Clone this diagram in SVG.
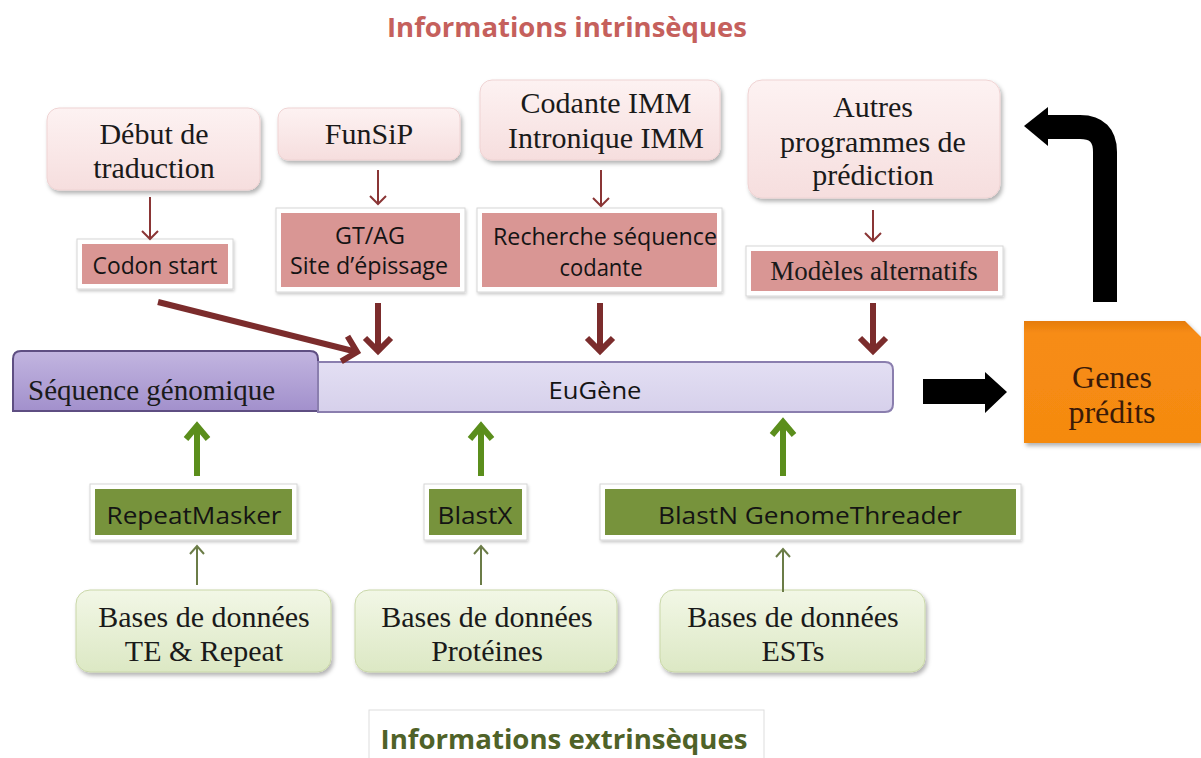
<svg xmlns="http://www.w3.org/2000/svg" width="1201" height="758" viewBox="0 0 1201 758">
<defs>
<linearGradient id="gPink" x1="0" y1="0" x2="0" y2="1"><stop offset="0" stop-color="#fdf2f2"/><stop offset="1" stop-color="#f6dede"/></linearGradient>
<linearGradient id="gGreen" x1="0" y1="0" x2="0" y2="1"><stop offset="0" stop-color="#f2f7e6"/><stop offset="1" stop-color="#dce8c4"/></linearGradient>
<linearGradient id="gPurple" x1="0" y1="0" x2="0" y2="1"><stop offset="0" stop-color="#c2b5e0"/><stop offset="1" stop-color="#a290cc"/></linearGradient>
<linearGradient id="gLav" x1="0" y1="0" x2="0" y2="1"><stop offset="0" stop-color="#e3dff3"/><stop offset="1" stop-color="#d6d0eb"/></linearGradient>
<linearGradient id="gOrange" x1="0" y1="0" x2="0" y2="1"><stop offset="0" stop-color="#e57c0c"/><stop offset="0.1" stop-color="#f78c14"/><stop offset="1" stop-color="#f58a10"/></linearGradient>
<filter id="sh" x="-10%" y="-10%" width="125%" height="140%"><feDropShadow dx="2" dy="3" stdDeviation="2" flood-color="#000" flood-opacity="0.3"/></filter>
<filter id="shl" x="-10%" y="-10%" width="125%" height="140%"><feDropShadow dx="1" dy="2" stdDeviation="1.5" flood-color="#000" flood-opacity="0.2"/></filter>
<marker id="mRedThick" markerUnits="userSpaceOnUse" viewBox="-16 -16 20 32" refX="0" refY="0" markerWidth="20" markerHeight="32" orient="auto" overflow="visible"><path d="M-13,-13 L0,0 L-13,13" fill="none" stroke="#7b2c2c" stroke-width="6"/></marker>
<marker id="mRedThin" markerUnits="userSpaceOnUse" viewBox="-10 -10 12 20" refX="0" refY="0" markerWidth="12" markerHeight="20" orient="auto" overflow="visible"><path d="M-8,-8 L0,0 L-8,8" fill="none" stroke="#8a3535" stroke-width="2"/></marker>
<marker id="mGreenThick" markerUnits="userSpaceOnUse" viewBox="-16 -16 20 32" refX="0" refY="0" markerWidth="20" markerHeight="32" orient="auto" overflow="visible"><path d="M-13,-11 L0,0 L-13,11" fill="none" stroke="#5b8e1c" stroke-width="6"/></marker>
<marker id="mGreenThin" markerUnits="userSpaceOnUse" viewBox="-10 -10 12 20" refX="0" refY="0" markerWidth="12" markerHeight="20" orient="auto" overflow="visible"><path d="M-8,-7 L0,0 L-8,7" fill="none" stroke="#6b7c47" stroke-width="2"/></marker>
</defs>
<style>
.serif{font-family:"Liberation Serif","Times New Roman",serif;font-size:30px;fill:#1a1a1a;text-anchor:middle}
.sans{font-family:"Open Sans","Liberation Sans",sans-serif;font-size:24px;fill:#141414;text-anchor:middle}
.pink{fill:url(#gPink);stroke:#efd3d3;stroke-width:1;filter:url(#sh)}
.lgreen{fill:url(#gGreen);stroke:#c9d7a8;stroke-width:1;filter:url(#sh)}
.frame{fill:#ffffff;stroke:#d6d6d6;stroke-width:1;filter:url(#shl)}
.rose{fill:#d99694}
.olive{fill:#77933c}
.redThick{stroke:#7b2c2c;stroke-width:6;fill:none;marker-end:url(#mRedThick)}
.redThin{stroke:#8a3535;stroke-width:2;fill:none;marker-end:url(#mRedThin)}
.greenThick{stroke:#5b8e1c;stroke-width:6;fill:none;marker-end:url(#mGreenThick)}
.greenThin{stroke:#6b7c47;stroke-width:2;fill:none;marker-end:url(#mGreenThin)}
</style>
<rect width="1201" height="758" fill="#ffffff"/>

<text x="567" y="37" style="font-family:'Open Sans','Liberation Sans',sans-serif;font-size:26px;font-weight:bold;fill:#c5605c;text-anchor:middle" textLength="360" lengthAdjust="spacingAndGlyphs">Informations intrinsèques</text>

<g id="debut"><rect class="pink" x="47" y="108" width="213" height="82" rx="12"/><text class="serif" x="154" y="144">Début de</text><text class="serif" x="154" y="178">traduction</text></g>
<g id="funsip"><rect class="pink" x="278" y="108" width="182" height="52" rx="10"/><text class="serif" x="369" y="144">FunSiP</text></g>
<g id="codante"><rect class="pink" x="480" y="80" width="240" height="80" rx="12"/><text class="serif" x="606" y="113">Codante IMM</text><text class="serif" x="606" y="148">Intronique IMM</text></g>
<g id="autres"><rect class="pink" x="748" y="80" width="252" height="118" rx="14"/><text class="serif" x="873" y="117">Autres</text><text class="serif" x="873" y="152">programmes de</text><text class="serif" x="873" y="185">prédiction</text></g>

<g id="codon"><rect class="frame" x="77" y="239" width="156" height="50"/><rect class="rose" x="82" y="244" width="146" height="40"/><text class="sans" x="155" y="274" textLength="125" lengthAdjust="spacingAndGlyphs">Codon start</text></g>
<g id="gtag"><rect class="frame" x="276" y="208" width="189" height="84"/><rect class="rose" x="281" y="213" width="179" height="74"/><text class="sans" x="370" y="244" textLength="70" lengthAdjust="spacingAndGlyphs">GT/AG</text><text class="sans" x="369" y="274" textLength="158" lengthAdjust="spacingAndGlyphs">Site d’épissage</text></g>
<g id="recherche"><rect class="frame" x="477" y="208" width="245" height="84"/><rect class="rose" x="482" y="213" width="235" height="74"/><text class="sans" x="605" y="245" textLength="224" lengthAdjust="spacingAndGlyphs">Recherche séquence</text><text class="sans" x="601" y="276" textLength="83" lengthAdjust="spacingAndGlyphs">codante</text></g>
<g id="modeles"><rect class="frame" x="746" y="246" width="257" height="50"/><rect class="rose" x="751" y="251" width="247" height="40"/><text class="serif" x="874" y="280" style="font-size:27px">Modèles alternatifs</text></g>

<g id="sequence"><path d="M13,411 V359 Q13,351 21,351 H310 Q318,351 318,359 V411 Z" fill="url(#gPurple)" stroke="#5e4e82" stroke-width="2"/><text class="serif" x="28" y="400" style="text-anchor:start;font-size:29px">Séquence génomique</text></g>
<g id="eugene"><path d="M318,362 H885 Q893,362 893,370 V404 Q893,412 885,412 H318 Z" fill="url(#gLav)" stroke="#8a7eae" stroke-width="2"/><text class="sans" x="595" y="399" textLength="93" lengthAdjust="spacingAndGlyphs">EuGène</text></g>

<g id="genes"><path d="M1024,321 H1185 L1201,337 V443 H1024 Z" fill="url(#gOrange)" filter="url(#sh)"/><text class="serif" x="1112" y="388" style="font-size:32px;fill:#3a1a08">Genes</text><text class="serif" x="1112" y="423" style="font-size:32px;fill:#3a1a08">prédits</text></g>

<g id="repeatmasker"><rect class="frame" x="90" y="484" width="207" height="56"/><rect class="olive" x="95" y="489" width="197" height="46"/><text class="sans" x="194" y="524" textLength="175" lengthAdjust="spacingAndGlyphs">RepeatMasker</text></g>
<g id="blastx"><rect class="frame" x="424" y="484" width="103" height="56"/><rect class="olive" x="429" y="489" width="93" height="46"/><text class="sans" x="475" y="524" textLength="75" lengthAdjust="spacingAndGlyphs">BlastX</text></g>
<g id="blastn"><rect class="frame" x="600" y="484" width="421" height="56"/><rect class="olive" x="605" y="489" width="411" height="46"/><text class="sans" x="810" y="524" textLength="304" lengthAdjust="spacingAndGlyphs">BlastN GenomeThreader</text></g>

<g id="db-te"><rect class="lgreen" x="76" y="590" width="255" height="82" rx="14"/><text class="serif" x="204" y="627">Bases de données</text><text class="serif" x="204" y="661">TE &amp; Repeat</text></g>
<g id="db-prot"><rect class="lgreen" x="355" y="590" width="262" height="82" rx="14"/><text class="serif" x="487" y="627">Bases de données</text><text class="serif" x="487" y="661">Protéines</text></g>
<g id="db-est"><rect class="lgreen" x="660" y="590" width="265" height="82" rx="14"/><text class="serif" x="793" y="627">Bases de données</text><text class="serif" x="793" y="661">ESTs</text></g>

<g id="extrinseques"><rect x="369" y="710" width="395" height="60" fill="#ffffff" stroke="#dddddd" stroke-width="1"/><text x="564" y="749" style="font-family:'Open Sans','Liberation Sans',sans-serif;font-size:26px;font-weight:bold;fill:#4f6228;text-anchor:middle" textLength="367" lengthAdjust="spacingAndGlyphs">Informations extrinsèques</text></g>

<g id="connectors">
<line class="redThin" x1="150" y1="197" x2="150" y2="239"/>
<line class="redThin" x1="378" y1="170" x2="378" y2="204"/>
<line class="redThin" x1="601" y1="170" x2="601" y2="206"/>
<line class="redThin" x1="873" y1="210" x2="873" y2="241"/>
<line class="redThick" x1="158" y1="302" x2="357" y2="352"/>
<line class="redThick" x1="378" y1="303" x2="378" y2="351"/>
<line class="redThick" x1="600" y1="303" x2="600" y2="351"/>
<line class="redThick" x1="873" y1="303" x2="873" y2="351"/>
<line class="greenThick" x1="197" y1="476" x2="197" y2="426"/>
<line class="greenThick" x1="481" y1="476" x2="481" y2="426"/>
<line class="greenThick" x1="783" y1="476" x2="783" y2="422"/>
<line class="greenThin" x1="197" y1="585" x2="197" y2="546"/>
<line class="greenThin" x1="481" y1="585" x2="481" y2="546"/>
<line class="greenThin" x1="783" y1="592" x2="783" y2="549"/>
<polygon points="923,379 985,379 985,372 1007,392 985,413 985,404 923,404" fill="#000000"/>
<path d="M1105,302 V152 Q1105,127 1080,127 H1046" fill="none" stroke="#000000" stroke-width="24"/>
<polygon points="1048,107 1024,126 1048,146" fill="#000000"/>
</g>
</svg>
